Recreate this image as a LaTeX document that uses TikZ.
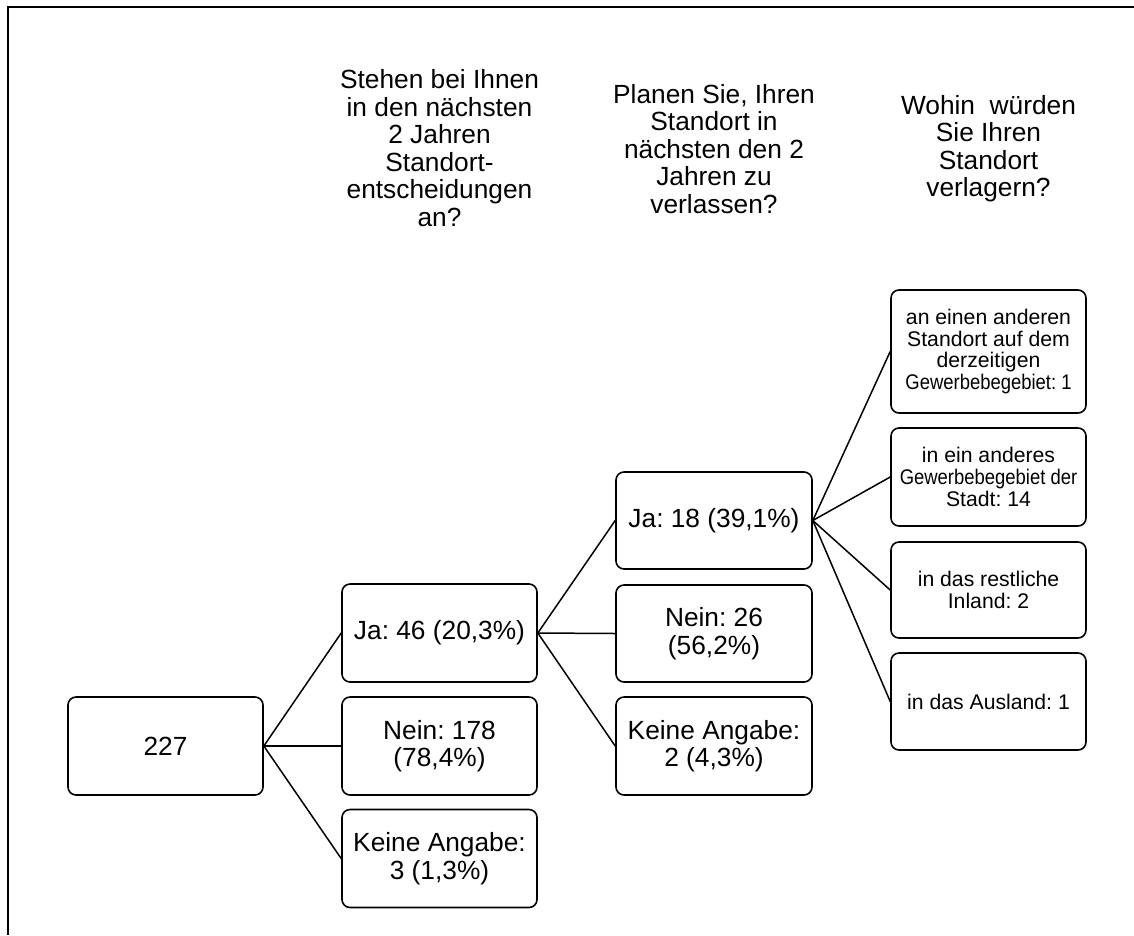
\documentclass[tikz,border=0pt]{standalone}
\usepackage{fontspec}
\setmainfont{Liberation Sans}
% narrower set for the long compound word in the destination boxes
\newcommand{\narrowline}[1]{\scalebox{0.87}[1]{#1}}
\begin{document}
\frenchspacing
\begin{tikzpicture}[x=1pt,y=-1pt,
  frameline/.style={line width=2.4pt},
  branch/.style={line width=1.5pt},
  stat/.style={draw, line width=1.6pt, rounded corners=8pt, align=center,
    inner sep=0pt, minimum width=195pt, minimum height=98pt,
    font=\fontsize{26.3}{27.5}\selectfont\frenchspacing},
  dest/.style={stat, font=\fontsize{21.2}{21.8}\selectfont\frenchspacing},
  question/.style={align=center, font=\fontsize{26.3}{27.5}\selectfont\frenchspacing}]
\useasboundingbox (0,0) rectangle (1134,935);

% open frame along the left and top edges
\coordinate (fbl) at (8,935);
\coordinate (ftl) at (8,7);
\coordinate (ftr) at (1134,7);
\draw[frameline] (fbl) -- (ftl) -- (ftr);

% column headings
\node[question] (q1) at (439.5,148) {Stehen bei Ihnen\\in den nächsten\\2 Jahren\\Standort-\\entscheidungen\\an?};
\node[question] (q2) at (714,149) {Planen Sie, Ihren\\Standort in\\nächsten den 2\\Jahren zu\\verlassen?};
\node[question] (q3) at (988.5,148.5) {Wohin\ \ würden\\Sie Ihren\\Standort\\verlagern?};

% root
\node[stat] (root) at (165.5,746) {227};

% first level
\node[stat] (ja46) at (439.5,633) {Ja: 46 (20,3\%)};
\node[stat] (nein178) at (439.5,746) {Nein: 178\\(78,4\%)};
\node[stat] (keine3) at (439.5,858.5) {Keine Angabe:\\3 (1,3\%)};

% second level
\node[stat, minimum width=196pt, minimum height=97pt] (ja18) at (714,520.5) {Ja: 18 (39,1\%)};
\node[stat, minimum width=196pt, minimum height=97pt] (nein26) at (714,633.5) {Nein: 26\\(56,2\%)};
\node[stat, minimum width=196pt] (keine2) at (714,746) {Keine Angabe:\\2 (4,3\%)};

% third level
\node[dest, minimum height=123pt] (d1) at (988.5,351.5) {an einen anderen\\Standort auf dem\\derzeitigen\\\narrowline{Gewerbebegebiet: 1}};
\node[dest] (d2) at (988.5,477) {in ein anderes\\\narrowline{Gewerbebegebiet der}\\Stadt: 14};
\node[dest, minimum height=96pt] (d3) at (988.5,590) {in das restliche\\Inland: 2};
\node[dest, minimum height=97pt] (d4) at (988.5,701.5) {in das Ausland: 1};

% connectors
\draw[branch] (root.east) -- (ja46.west);
\draw[branch, line width=2.4pt] (root.east) -- (nein178.west);
\draw[branch] (root.east) -- (keine3.west);
\draw[branch] (ja46.east) -- (ja18.west);
\draw[branch] (ja46.east) -- (nein26.west);
\draw[branch] (ja46.east) -- (keine2.west);
\draw[branch] (ja18.east) -- (d1.west);
\draw[branch] (ja18.east) -- (d2.west);
\draw[branch] (ja18.east) -- (d3.west);
\draw[branch] (ja18.east) -- (d4.west);
\end{tikzpicture}
\end{document}
